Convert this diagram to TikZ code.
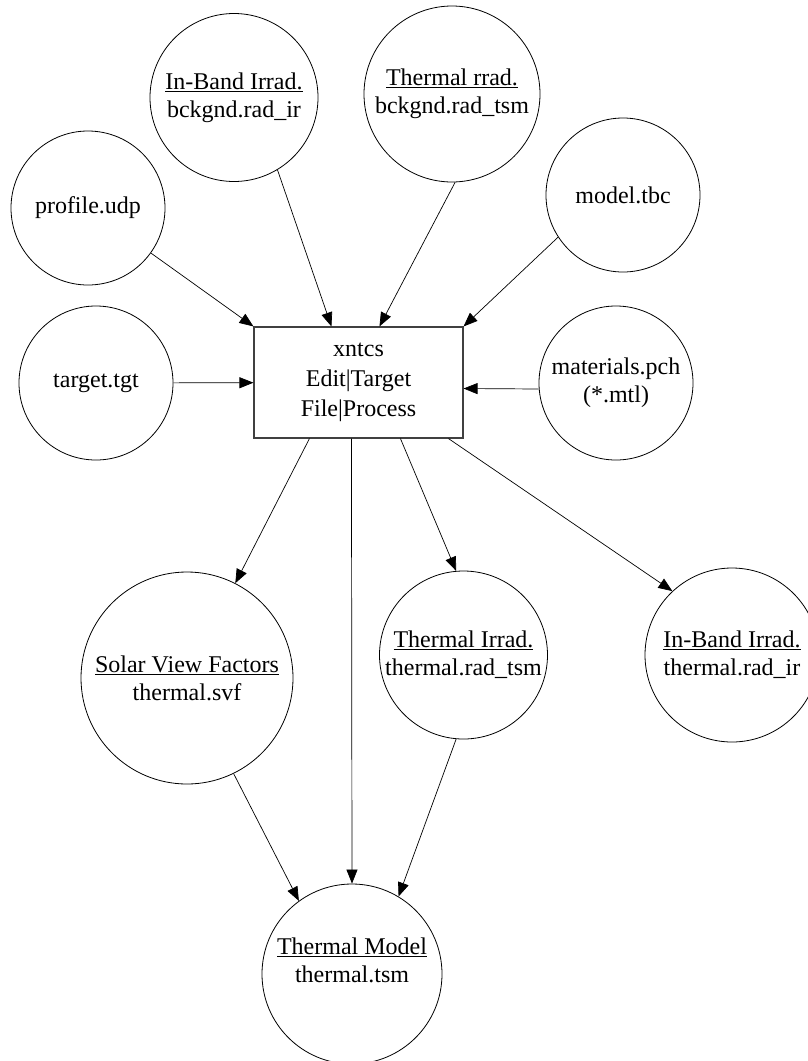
\documentclass[tikz,border=0pt]{standalone}
\usepackage{fontspec}
\setmainfont{Liberation Serif}
\usetikzlibrary{arrows.meta}
\begin{document}
\begin{tikzpicture}[x=1pt,y=-1pt,
  filetext/.style={align=center, font=\fontsize{24}{28}\selectfont},
  file/.style={circle, draw, line width=0.8pt, inner sep=0pt, filetext},
  proc/.style={rectangle, draw=black!75, line width=1.1pt, inner sep=0pt,
    minimum width=209pt, minimum height=111pt, align=center,
    font=\fontsize{24}{30}\selectfont},
  flow/.style={-{Triangle[length=14pt,width=11pt]}, line width=0.7pt}]
\useasboundingbox (0,0) rectangle (808,1061);

% central program
\node[proc] (box) at (358.5,382.5) {xntcs\\Edit|Target\\File|Process};

% input files
\node[file, minimum size=154pt] (prof) at (88,208) {profile.udp};
\node[file, minimum size=168pt] (ib) at (234,97.5) {\underline{In-Band Irrad.}\\bckgnd.rad\_ir};
\node[file, minimum size=176pt] (tr) at (452,94) {\underline{Thermal rrad.}\\bckgnd.rad\_tsm};
\node[file, minimum size=154pt] (mtbc) at (623,195) {model.tbc};
\node[file, minimum size=154pt] (tgt) at (96,383) {target.tgt};
\node[file, minimum size=154pt] (mat) at (616,383) {materials.pch\\(*.mtl)};

% output files
\node[file, minimum size=212pt] (sol) at (187,678) {\underline{Solar View Factors}\\thermal.svf};
\node[file, minimum size=168pt] (ti) at (463.5,655) {\underline{Thermal Irrad.}\\thermal.rad\_tsm};
\node[file, minimum size=174pt] (ir2) at (732,655) {\underline{In-Band Irrad.}\\thermal.rad\_ir};
\node[file, minimum size=180pt,
  label={[filetext, yshift=14pt]center:{\underline{Thermal Model}\\thermal.tsm}}] (tm) at (352,974) {};

% inputs into the program
\draw[flow] (prof) -- (box.north west);
\draw[flow] (ib.-59) -- ([xshift=78pt]box.north west);
\draw[flow] (tr.-88) -- ([xshift=126pt]box.north west);
\draw[flow] (mtbc.-147) -- (box.north east);
\draw[flow] (tgt) -- (box);
\draw[flow] ([yshift=-6pt]mat.west) -- ([yshift=-6pt]box.east);

% program outputs
\draw[flow] ([xshift=56pt]box.south west) -- (sol.63);
\draw[flow] ([xshift=98pt]box.south west) -- (tm.north);
\draw[flow] ([xshift=147pt]box.south west) -- (ti.95);
\draw[flow] ([xshift=195pt]box.south west) -- (ir2.133);

% thermal model inputs
\draw[flow] (sol.-64) -- (tm.126);
\draw[flow] (ti.-95) -- (tm.59);
\end{tikzpicture}
\end{document}
